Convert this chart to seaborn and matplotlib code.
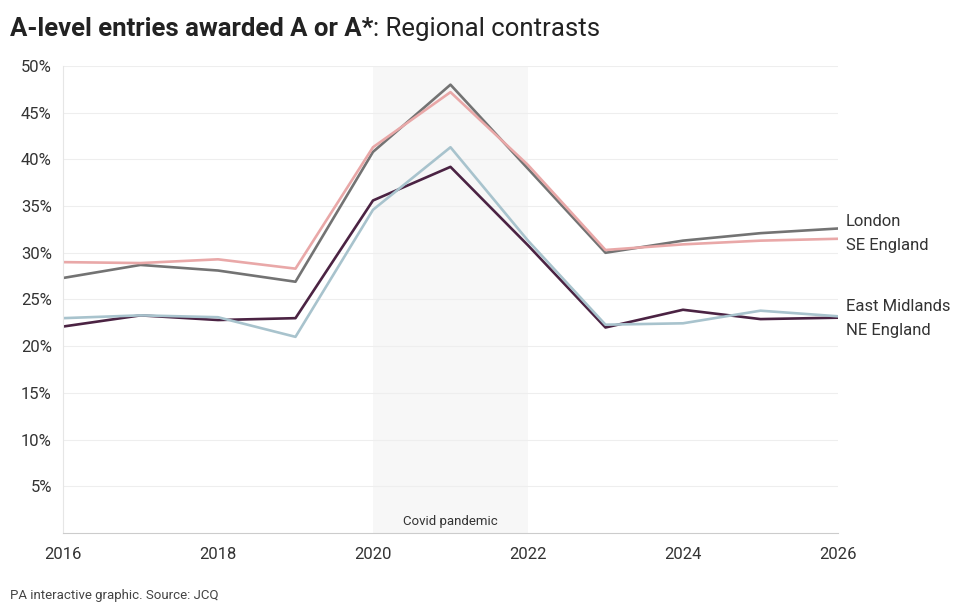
import matplotlib.pyplot as plt
import pandas as pd
import seaborn as sns

# Values (% of entries awarded A or A*)
years = [2016, 2017, 2018, 2019, 2020, 2021, 2022, 2023, 2024, 2025, 2026]
london = [27.3, 28.7, 28.1, 26.9, 40.8, 48.0, 39.0, 30.0, 31.3, 32.1, 32.6]
se_england = [29.0, 28.9, 29.3, 28.3, 41.3, 47.2, 39.4, 30.3, 30.9, 31.3, 31.5]
east_midlands = [22.1, 23.3, 22.8, 23.0, 35.6, 39.2, 30.8, 22.0, 23.9, 22.9, 23.05]
ne_england = [23.0, 23.3, 23.1, 21.0, 34.6, 41.3, 31.3, 22.3, 22.45, 23.8, 23.2]

regions = ["London", "SE England", "East Midlands", "NE England"]
colours = ["#737373", "#e9a8a8", "#4b2343", "#a8c3cd"]
end_label_y = [33.4, 30.8, 24.3, 21.7]

df = pd.DataFrame({
    "year": years * 4,
    "value": london + se_england + east_midlands + ne_england,
    "region": [r for r in regions for _ in years],
})

sns.set_style("white")
plt.rcParams["font.family"] = ["Roboto", "DejaVu Sans"]

fig = plt.figure(figsize=(9.6, 6.11), dpi=100)
ax = fig.add_axes([0.0656, 0.1277, 0.8073, 0.7643])

# Covid band
ax.axvspan(2020, 2022, color="#f7f7f7", zorder=0, lw=0)
ax.text(2021, 1.2, "Covid pandemic", ha="center", va="center", fontsize=9.5, color="#333333")

sns.lineplot(data=df, x="year", y="value", hue="region", hue_order=regions,
             palette=dict(zip(regions, colours)), linewidth=1.9, ax=ax, legend=False)

ax.set_xlim(2016, 2026)
ax.set_ylim(0, 50)
ax.set_xticks([2016, 2018, 2020, 2022, 2024, 2026])
ax.set_yticks(range(5, 55, 5))
ax.set_yticklabels([f"{v}%" for v in range(5, 55, 5)])
ax.set_xlabel("")
ax.set_ylabel("")
ax.grid(axis="y", color="#eeeeee", linewidth=0.8)
ax.set_axisbelow(True)
for side in ["top", "right"]:
    ax.spines[side].set_visible(False)
ax.spines["left"].set_color("#e6e6e6")
ax.spines["bottom"].set_color("#cccccc")
ax.tick_params(axis="y", length=0, labelsize=12, labelcolor="#333333", pad=8)
ax.tick_params(axis="x", length=4, color="#cccccc", labelsize=12, labelcolor="#333333", pad=6)

for name, y in zip(regions, end_label_y):
    ax.text(2026.1, y, name, ha="left", va="center", fontsize=12, color="#333333")

# Title: bold part followed by regular part
t1 = fig.text(0.0104, 0.953, "A-level entries awarded A or A*", fontsize=18.5, fontweight="bold",
              color="#222222", va="center")
fig.canvas.draw()
bb = t1.get_window_extent(renderer=fig.canvas.get_renderer())
fig.text(bb.x1 / fig.bbox.width, 0.953, ": Regional contrasts", fontsize=18.5,
         color="#222222", va="center")
fig.text(0.0104, 0.025, "PA interactive graphic. Source: JCQ", fontsize=9.5, color="#444444", va="center")

fig.savefig("out.png", dpi=100)
